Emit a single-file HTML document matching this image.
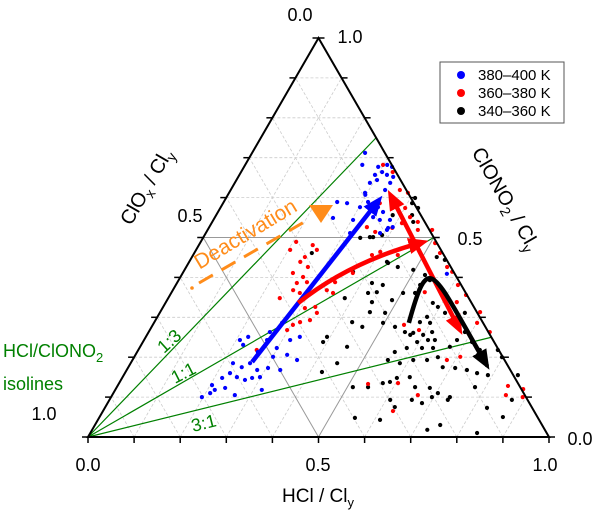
<!DOCTYPE html>
<html><head><meta charset="utf-8"><style>
html,body{margin:0;padding:0;background:#fff;}
svg{display:block;font-family:"Liberation Sans",Arial,sans-serif;}
</style></head><body>
<svg id="chart" width="600" height="519" viewBox="0 0 600 519" xmlns="http://www.w3.org/2000/svg">
<defs>
<marker id="ahB" markerWidth="4.5" markerHeight="3.6" refX="2.5" refY="1.8" orient="auto" markerUnits="strokeWidth"><path d="M0,0 L4.5,1.8 L0,3.6 z" fill="#0000ff"/></marker>
<marker id="ahR" markerWidth="4.5" markerHeight="3.6" refX="2.5" refY="1.8" orient="auto-start-reverse" markerUnits="strokeWidth"><path d="M0,0 L4.5,1.8 L0,3.6 z" fill="#ff0000"/></marker>
<marker id="ahK" markerWidth="4.5" markerHeight="3.6" refX="2.5" refY="1.8" orient="auto" markerUnits="strokeWidth"><path d="M0,0 L4.5,1.8 L0,3.6 z" fill="#000"/></marker>
</defs>
<g id="grid"></g>
<g id="iso"></g>
<g id="pts"></g>
<g id="arrows"></g>
<g id="frame"></g>

<g>
<line x1="199" y1="283" x2="306" y2="221" stroke="#ff8c1a" stroke-width="3" stroke-dasharray="16,10"/>
<circle cx="192" cy="288" r="1.8" fill="#ff8c1a"/>
<polygon points="309,205 333,205 321,223" fill="#ff8c1a"/>
<text x="249" y="240" font-size="21" fill="#ff8c1a" text-anchor="middle" transform="rotate(-31 249 240)">Deactivation</text>
</g>

<g>
<rect x="440" y="62" width="124" height="61" fill="#fff" stroke="#555" stroke-width="1"/>
<circle cx="461" cy="75" r="4" fill="#0000ff"/><text x="478" y="80" font-size="15">380–400 K</text>
<circle cx="461" cy="93" r="4" fill="#ff0000"/><text x="478" y="98" font-size="15">360–380 K</text>
<circle cx="461" cy="111" r="4" fill="#000"/><text x="478" y="116" font-size="15">340–360 K</text>
</g>

<g font-size="18" fill="#000">
<text x="300" y="21" text-anchor="middle">0.0</text>
<text x="350" y="43" text-anchor="middle">1.0</text>
<text x="190" y="222" text-anchor="middle">0.5</text>
<text x="44" y="420" text-anchor="middle">1.0</text>
<text x="88" y="471" text-anchor="middle">0.0</text>
<text x="318" y="471" text-anchor="middle">0.5</text>
<text x="545" y="471" text-anchor="middle">1.0</text>
<text x="470" y="245" text-anchor="middle">0.5</text>
<text x="580" y="445" text-anchor="middle">0.0</text>
</g>

<text x="318" y="502" font-size="19" text-anchor="middle">HCl / Cl<tspan font-size="13" dy="5">y</tspan></text>
<text x="152" y="190" font-size="20" text-anchor="middle" transform="rotate(-60 152 190)">ClO<tspan font-size="14" dy="5">x</tspan><tspan dy="-5"> / Cl</tspan><tspan font-size="14" dy="5">y</tspan></text>
<text x="500" y="202" font-size="20" text-anchor="middle" transform="rotate(60 500 202)">ClONO<tspan font-size="14" dy="5">2</tspan><tspan dy="-5"> / Cl</tspan><tspan font-size="14" dy="5">y</tspan></text>

<g fill="#008000">
<text x="3" y="357" font-size="18">HCl/ClONO<tspan font-size="13" dy="5">2</tspan></text>
<text x="3" y="390" font-size="18">isolines</text>
<text x="164" y="354" font-size="18" transform="rotate(-42 164 354)">1:3</text>
<text x="175" y="384" font-size="18" transform="rotate(-27 175 384)">1:1</text>
<text x="193" y="432" font-size="18" transform="rotate(-14 193 432)">3:1</text>
</g>
</svg>
<script>
// ternary data: h = HCl/Cly, c = ClONO2/Cly
const blueH=[.208,.221,.222,.246,.259,.283,.228,.248,.269,.216,.197,.236,.263,.298,.301,.329,.357,.334,.317,.333,.304,.298,.282,.217,.210,.267,.222,.278,.204,.318,.266,.262,
.308,.321,.291,.294,.306,.320,.336,.293,.337,.335,.295,.341,.358,.383,.398,.313,.343,.361,.389,.245,.254,.246,.269,.257,.303,.302,.313,.298,.378,.389,.305,.574];
const blueC=[.243,.231,.185,.175,.185,.168,.160,.150,.143,.118,.100,.123,.263,.223,.201,.206,.193,.251,.243,.168,.173,.150,.148,.148,.110,.243,.251,.286,.130,.118,.105,.213,
.682,.677,.677,.657,.664,.657,.652,.637,.637,.619,.612,.576,.564,.544,.526,.589,.551,.544,.519,.712,.682,.589,.586,.549,.544,.576,.511,.607,.511,.524,.644,.409];
const redH=[.247,.262,.245,.241,.264,.239,.266,.260,.281,.261,.279,.242,.309,.330,.341,.335,.316,.304,.298,.334,.351,.342,.369,.257,.207,.204,
.299,.329,.367,.388,.340,.401,.423,.413,.446,.398,.366,.342,.456,.487,.510,.533,.444,.402,.388,.566,.583,.612,.642,.549,.631,.701,.584,.545,.694,.740,.707,.682,.605,.663,.847,.854,.884,.893,.629,.541];
const redC=[.481,.469,.451,.439,.426,.411,.401,.386,.388,.368,.361,.348,.323,.326,.311,.293,.288,.281,.268,.368,.361,.388,.411,.218,.489,.469,
.682,.664,.619,.612,.586,.574,.551,.536,.539,.524,.514,.526,.519,.519,.486,.461,.456,.464,.456,.426,.414,.381,.356,.363,.338,.286,.268,.281,.313,.263,.201,.193,.135,.105,.128,.105,.120,.100,.065,.133];
const blackH=[.449,.488,.503,.529,.530,.528,.545,.569,.580,.596,.619,.585,.599,.576,.575,.599,.615,.631,.616,.595,.528,.556,.571,.559,.580,.613,.637,.672,.679,.686,.714,.741,.554,.584,.609,.639,.659,.682,.710,.738,.764,.775,.790,.780,.798,.586,.596,.623,.647,.680,.704,.735,.777,.696,.628,.609,.656,.682,.734,.829,.875,.749,.839,.855,.873,.429,.459,.489,.496,.662,.743,
.255,.368,.423,.427,.445,.383,.447,.455,.429,.457,.497,.393,.391,.449,.448,.426,.512,.545,.572,.433,.385,.368,.410,.410,.429,.425,.365,.383,.436,.361,.341,.531,.552,.612,.727,.555];
const blackC=[.381,.343,.361,.361,.381,.406,.393,.381,.336,.326,.311,.301,.286,.288,.261,.256,.263,.243,.243,.238,.276,.263,.256,.213,.223,.223,.223,.226,.243,.263,.238,.218,.193,.185,.193,.193,.200,.175,.173,.168,.160,.180,.155,.218,.200,.138,.148,.150,.125,.123,.110,.100,.125,.100,.075,.093,.093,.085,.093,.073,.050,.030,.010,.155,.093,.439,.426,.311,.419,.311,.206,
.461,.414,.386,.361,.363,.348,.338,.313,.288,.276,.286,.251,.238,.226,.185,.163,.125,.125,.135,.436,.506,.501,.586,.599,.574,.556,.589,.556,.539,.501,.499,.451,.444,.043,.018,.048];
// trend arrows (ternary h,c)
const blueArrowH=[.262,.333], blueArrowC=[.188,.587];
const redCurveH=[.288,.349,.477], redCurveC=[.336,.439,.486];
const redLineH=[.360,.665], redLineC=[.599,.276];
const blackCurveH=[.553,.505,.535,.767], blackCurveC=[.286,.470,.420,.188];
const ticks=[0,.1,.2,.3,.4,.5,.6,.7,.8,.9,1];
const isoRatiosC=[.75,.5,.25];

const BL=[88,437],BR=[549,437],TP=[318.5,38];
function X(h,c){const o=1-h-c;return o*BL[0]+h*BR[0]+c*TP[0];}
function Y(h,c){const o=1-h-c;return o*BL[1]+h*BR[1]+c*TP[1];}
const NS="http://www.w3.org/2000/svg";
function mk(tag,attrs,parent){const e=document.createElementNS(NS,tag);for(const k in attrs)e.setAttribute(k,attrs[k]);parent.appendChild(e);return e;}
const grid=document.getElementById('grid');
ticks.forEach(t=>{
  if(t===0||t===1)return;
  const solid=Math.abs(t-.5)<1e-6;
  const st=solid?{stroke:'#999','stroke-width':1}:{stroke:'#ccc','stroke-width':.8,'stroke-dasharray':'3,2'};
  let l=mk('line',Object.assign({x1:X(0,t),y1:Y(0,t),x2:X(1-t,t),y2:Y(1-t,t)},st),grid);
  
  
  l=mk('line',Object.assign({x1:X(t,0),y1:Y(t,0),x2:X(t,1-t),y2:Y(t,1-t)},st),grid);
  
  
  l=mk('line',Object.assign({x1:X(1-t,0),y1:Y(1-t,0),x2:X(0,1-t),y2:Y(0,1-t)},st),grid);
  
  
});
const iso=document.getElementById('iso');
isoRatiosC.forEach(c=>{
  const l=mk('line',{x1:X(0,0),y1:Y(0,0),x2:X(1-c,c),y2:Y(1-c,c),stroke:'#008000','stroke-width':1.2},iso);
  
  
});
const pts=document.getElementById('pts');
function series(H,C,col,name){H.forEach((h,i)=>{const p=mk('circle',{cx:X(h,C[i]),cy:Y(h,C[i]),r:2.1,fill:col},pts);
  
  });}
series(blackH,blackC,'#000','point-340-360');
series(redH,redC,'#ff0000','point-360-380');
series(blueH,blueC,'#0000ff','point-380-400');
const ar=document.getElementById('arrows');
let a=mk('line',{x1:X(blueArrowH[0],blueArrowC[0]),y1:Y(blueArrowH[0],blueArrowC[0]),x2:X(blueArrowH[1],blueArrowC[1]),y2:Y(blueArrowH[1],blueArrowC[1]),stroke:'#0000ff','stroke-width':4.5,'marker-end':'url(#ahB)'},ar);


a=mk('path',{d:`M${X(redCurveH[0],redCurveC[0])},${Y(redCurveH[0],redCurveC[0])} Q${X(redCurveH[1],redCurveC[1])},${Y(redCurveH[1],redCurveC[1])} ${X(redCurveH[2],redCurveC[2])},${Y(redCurveH[2],redCurveC[2])}`,fill:'none',stroke:'#ff0000','stroke-width':4.5,'marker-end':'url(#ahR)'},ar);


a=mk('line',{x1:X(redLineH[0],redLineC[0]),y1:Y(redLineH[0],redLineC[0]),x2:X(redLineH[1],redLineC[1]),y2:Y(redLineH[1],redLineC[1]),stroke:'#ff0000','stroke-width':4.5,'marker-end':'url(#ahR)','marker-start':'url(#ahR)'},ar);


const bx=blackCurveH.map((h,i)=>X(h,blackCurveC[i])), by=blackCurveH.map((h,i)=>Y(h,blackCurveC[i]));
a=mk('path',{d:`M${bx[0]},${by[0]} C${bx[1]},${by[1]} ${bx[2]},${by[2]} ${bx[3]},${by[3]}`,fill:'none',stroke:'#000','stroke-width':4.5,'stroke-linejoin':'round','marker-end':'url(#ahK)'},ar);


const fr=document.getElementById('frame');
let tri=mk('polygon',{points:`${BL} ${BR} ${TP}`,fill:'none',stroke:'#000','stroke-width':2},fr);


ticks.forEach(t=>{
  let x=X(t,0),y=Y(t,0);
  let l=mk('line',{x1:x,y1:y,x2:x,y2:y+6,stroke:'#000','stroke-width':1.5},fr);
  
  
  x=X(0,t);y=Y(0,t);
  l=mk('line',{x1:x,y1:y,x2:x-6,y2:y,stroke:'#000','stroke-width':1.5},fr);
  
  
  x=X(1-t,t);y=Y(1-t,t);
  l=mk('line',{x1:x,y1:y,x2:x+6,y2:y,stroke:'#000','stroke-width':1.5},fr);
  
  
});
</script>
</body></html>
